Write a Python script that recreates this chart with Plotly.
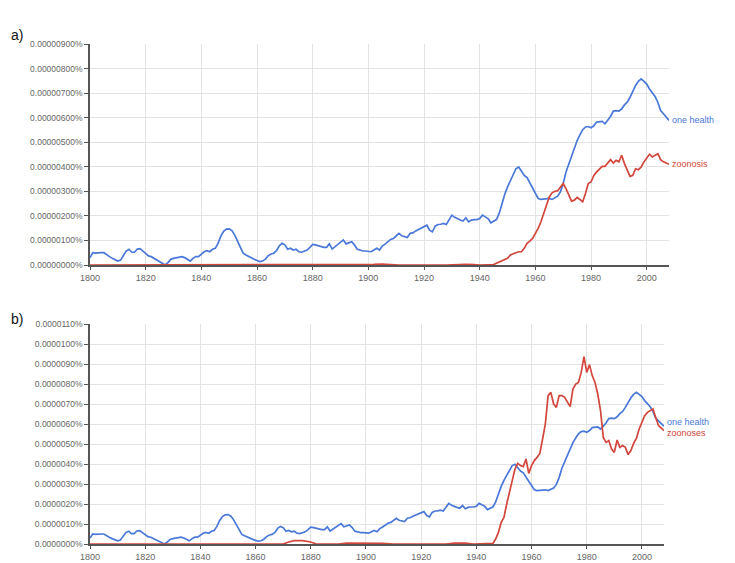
import plotly.graph_objects as go

# ---------------- data (units of 1e-6 %) ----------------
years_oh = list(range(1800, 2009))
one_health = [
    0.30, 0.50, 0.48, 0.50, 0.50, 0.50, 0.40, 0.34, 0.27, 0.23,
    0.16, 0.20, 0.37, 0.57, 0.64, 0.52, 0.52, 0.65, 0.67, 0.57,
    0.45, 0.37, 0.34, 0.27, 0.20, 0.15, 0.07, 0.00, 0.10, 0.23,
    0.27, 0.29, 0.31, 0.34, 0.30, 0.23, 0.16, 0.27, 0.34, 0.34,
    0.45, 0.54, 0.58, 0.54, 0.64, 0.68, 0.88, 1.18, 1.37, 1.46,
    1.47, 1.40, 1.22, 0.95, 0.68, 0.48, 0.41, 0.34, 0.27, 0.23,
    0.18, 0.14, 0.16, 0.24, 0.37, 0.45, 0.48, 0.58, 0.78, 0.88,
    0.82, 0.64, 0.68, 0.61, 0.64, 0.54, 0.52, 0.57, 0.61, 0.72,
    0.84, 0.82, 0.78, 0.75, 0.72, 0.72, 0.86, 0.65, 0.75, 0.86,
    0.95, 1.02, 0.86, 0.91, 0.95, 0.82, 0.64, 0.61, 0.57, 0.57,
    0.56, 0.54, 0.61, 0.68, 0.61, 0.77, 0.85, 0.95, 1.04, 1.08,
    1.18, 1.29, 1.19, 1.15, 1.12, 1.29, 1.31, 1.39, 1.45, 1.49,
    1.56, 1.62, 1.42, 1.35, 1.58, 1.65, 1.66, 1.69, 1.65, 1.83,
    2.03, 1.94, 1.87, 1.83, 1.79, 1.92, 1.76, 1.83, 1.85, 1.85,
    1.89, 2.03, 1.96, 1.89, 1.72, 1.79, 1.85, 2.10, 2.50, 2.88,
    3.18, 3.45, 3.72, 3.92, 3.99, 3.83, 3.65, 3.56, 3.34, 3.14,
    2.91, 2.71, 2.67, 2.68, 2.67, 2.71, 2.67, 2.75, 2.80, 2.98,
    3.32, 3.79, 4.13, 4.47, 4.80, 5.07, 5.30, 5.51, 5.62, 5.64,
    5.59, 5.67, 5.82, 5.85, 5.85, 5.75, 5.91, 6.05, 6.27, 6.29,
    6.27, 6.36, 6.52, 6.63, 6.83, 7.08, 7.31, 7.48, 7.58, 7.48,
    7.37, 7.17, 7.00, 6.86, 6.63, 6.29, 6.16, 6.02, 5.89,
]

years_zoonosis = [1800, 1900, 1902, 1905, 1909, 1911, 1928, 1931, 1935, 1938,
                  1940, 1945] + list(range(1946, 2009))
zoonosis = [0, 0, 0.03, 0.04, 0.03, 0, 0, 0.02, 0.03, 0.02, 0, 0.02,
    0.07, 0.13, 0.18, 0.20,
    0.27, 0.41, 0.47, 0.50, 0.54, 0.54, 0.68, 0.88, 0.97, 1.08,
    1.29, 1.49, 1.76, 2.10, 2.44, 2.77, 2.94, 3.00, 3.02, 3.18,
    3.32, 3.11, 2.84, 2.60, 2.64, 2.75, 2.67, 2.57, 2.91, 3.32,
    3.38, 3.65, 3.79, 3.92, 4.02, 4.02, 4.15, 4.29, 4.15, 4.26,
    4.20, 4.47, 4.13, 3.83, 3.61, 3.65, 3.92, 3.88, 3.99, 4.20,
    4.37, 4.51, 4.40, 4.47, 4.53, 4.29, 4.20, 4.15, 4.10,
]

years_zoonoses = [1800, 1870, 1872, 1874, 1877, 1880, 1882, 1890, 1893, 1897,
                  1900, 1902, 1906, 1910, 1929, 1932, 1936, 1939, 1945] + list(range(1946, 2009))
zoonoses = [0, 0, 0.10, 0.17, 0.17, 0.10, 0, 0, 0.05, 0.05,
    0.02, 0.03, 0.03, 0, 0, 0.04, 0.04, 0, 0,
    0.03, 0.25, 0.58, 1.08,
    1.33, 2.00, 2.67, 3.17, 3.75, 4.03, 3.92, 3.87, 4.25, 3.53,
    3.92, 4.17, 4.33, 4.53, 5.25, 6.00, 7.42, 7.58, 7.00, 6.83,
    7.42, 7.42, 7.33, 7.08, 6.87, 7.75, 8.00, 8.08, 8.58, 9.37,
    8.58, 8.97, 8.42, 8.08, 7.50, 6.67, 5.33, 5.08, 5.17, 4.75,
    4.58, 5.20, 4.83, 4.92, 4.83, 4.47, 4.67, 5.03, 5.28, 5.75,
    6.08, 6.42, 6.58, 6.67, 6.75, 6.33, 5.92, 5.80, 5.67,
]

x_ticks = list(range(1800, 2001, 20))
y_ticks_a = list(range(0, 10))
y_labels_a = [f"{v * 1e-6:.8f}%" for v in y_ticks_a]
y_ticks_b = list(range(0, 12))
y_labels_b = [f"{v * 1e-6:.7f}%" for v in y_ticks_b]

BLUE = "#4a78d8"
RED = "#d2463c"
W, H = 735, 563

fig = go.Figure()
fig.add_trace(go.Scatter(x=years_oh, y=one_health, mode="lines", name="one health",
                         line=dict(color=BLUE, width=1.7), xaxis="x", yaxis="y"))
fig.add_trace(go.Scatter(x=years_zoonosis, y=zoonosis, mode="lines", name="zoonosis",
                         line=dict(color=RED, width=1.7), xaxis="x", yaxis="y"))
fig.add_trace(go.Scatter(x=years_oh, y=one_health, mode="lines", name="one health",
                         line=dict(color=BLUE, width=1.7), xaxis="x2", yaxis="y2"))
fig.add_trace(go.Scatter(x=years_zoonoses, y=zoonoses, mode="lines", name="zoonoses",
                         line=dict(color=RED, width=1.7), xaxis="x2", yaxis="y2"))

axis_font = dict(family="Liberation Sans, Arial, sans-serif", size=8.5, color="#666")
common_x = dict(range=[1800, 2008], tickvals=x_ticks, showgrid=True, gridcolor="#e3e3e3",
                gridwidth=1, showline=True, linecolor="#555", linewidth=1.5, ticks="outside",
                ticklen=3, tickcolor="#555", zeroline=False, automargin=False,
                tickfont=dict(family="Liberation Sans, Arial, sans-serif", size=9, color="#666"))
common_y = dict(showgrid=True, gridcolor="#e3e3e3", gridwidth=1, showline=True,
                linecolor="#555", linewidth=1.5, ticks="outside", ticklen=4,
                tickcolor="#555", zeroline=False, automargin=False, tickfont=axis_font)

fig.update_layout(
    width=W, height=H, margin=dict(l=0, r=0, t=0, b=0, autoexpand=False),
    paper_bgcolor="white", plot_bgcolor="white", showlegend=False,
    xaxis=dict(domain=[90 / W, 669 / W], anchor="y", **common_x),
    yaxis=dict(domain=[1 - 265 / H, 1 - 44 / H], anchor="x", range=[0, 9],
               tickvals=y_ticks_a, ticktext=y_labels_a, **common_y),
    xaxis2=dict(domain=[90 / W, 664 / W], anchor="y2", **common_x),
    yaxis2=dict(domain=[1 - 544 / H, 1 - 324 / H], anchor="x2", range=[0, 11],
                tickvals=y_ticks_b, ticktext=y_labels_b, **common_y),
)

lab_font = dict(family="Liberation Sans, Arial, sans-serif", size=9)
fig.add_annotation(x=years_oh[-1], y=one_health[-1], xref="x", yref="y", text="one health",
                   showarrow=False, xanchor="left", yanchor="middle", xshift=1,
                   font=dict(color=BLUE, **lab_font))
fig.add_annotation(x=years_zoonosis[-1], y=zoonosis[-1], xref="x", yref="y", text="zoonosis",
                   showarrow=False, xanchor="left", yanchor="middle", xshift=1,
                   font=dict(color=RED, **lab_font))
fig.add_annotation(x=years_oh[-1], y=one_health[-1], xref="x2", yref="y2", text="one health",
                   showarrow=False, xanchor="left", yanchor="middle", xshift=1, yshift=4,
                   font=dict(color=BLUE, **lab_font))
fig.add_annotation(x=years_zoonoses[-1], y=zoonoses[-1], xref="x2", yref="y2", text="zoonoses",
                   showarrow=False, xanchor="left", yanchor="middle", xshift=1, yshift=-2,
                   font=dict(color=RED, **lab_font))

panel_font = dict(family="Liberation Sans, Arial, sans-serif", size=14, color="#111")
fig.add_annotation(x=9 / W, y=1 - 35 / H, xref="paper", yref="paper", text="a)",
                   showarrow=False, xanchor="left", yanchor="middle", font=panel_font)
fig.add_annotation(x=9 / W, y=1 - 319 / H, xref="paper", yref="paper", text="b)",
                   showarrow=False, xanchor="left", yanchor="middle", font=panel_font)

fig.write_html(
    "out.html",
    config={"displayModeBar": False},
    post_script="document.body.style.margin='0px';document.body.style.overflow='hidden';",
)
